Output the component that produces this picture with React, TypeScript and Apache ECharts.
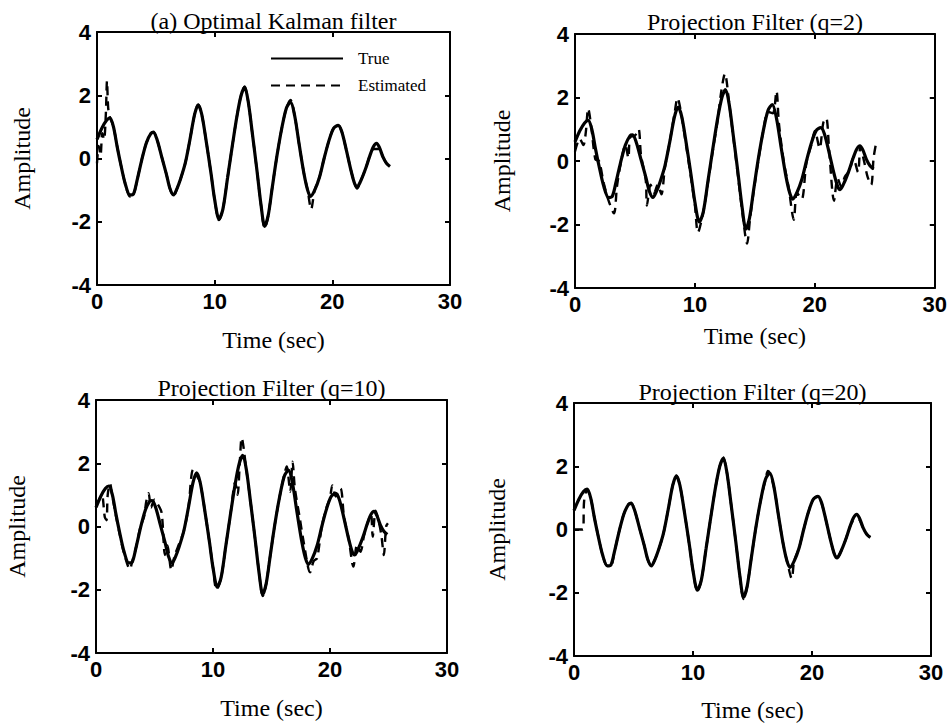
import React, { useEffect, useRef } from "react";
import * as echarts from "echarts";

// True signal [time (s), amplitude]
const trueSignal: number[][] = [
  [0.0, 0.6], [0.4, 0.95], [0.8, 1.2], [1.1, 1.28], [1.4, 1.0], [1.7, 0.4], [2.0, -0.15],
  [2.4, -0.8], [2.8, -1.15], [3.1, -1.12], [3.4, -0.7], [3.8, -0.05], [4.2, 0.5], [4.6, 0.8],
  [4.8, 0.82], [5.1, 0.6], [5.5, 0.05], [5.9, -0.5], [6.2, -0.95], [6.5, -1.15], [6.8, -0.95],
  [7.1, -0.65], [7.5, -0.15], [7.9, 0.6], [8.3, 1.4], [8.6, 1.7], [8.9, 1.4], [9.3, 0.5],
  [9.7, -0.5], [10.0, -1.3], [10.37, -1.92], [10.7, -1.6], [11.1, -0.6], [11.5, 0.4],
  [11.9, 1.35], [12.25, 2.0], [12.55, 2.25], [12.85, 1.8], [13.2, 0.8], [13.6, -0.4],
  [13.95, -1.5], [14.25, -2.15], [14.55, -1.8], [14.9, -0.9], [15.3, 0.1], [15.7, 0.95],
  [16.1, 1.6], [16.45, 1.78], [16.8, 1.35], [17.2, 0.4], [17.6, -0.5], [17.9, -1.0],
  [18.15, -1.2], [18.5, -1.0], [18.9, -0.6], [19.3, 0.0], [19.7, 0.55], [20.1, 0.95],
  [20.5, 1.05], [20.8, 0.85], [21.2, 0.25], [21.6, -0.4], [21.9, -0.8], [22.1, -0.9],
  [22.4, -0.72], [22.8, -0.35], [23.2, 0.1], [23.5, 0.38], [23.76, 0.48], [24.0, 0.35],
  [24.3, 0.05], [24.6, -0.15], [24.9, -0.25],
];

// (a) Optimal Kalman filter estimate
const kalmanEst: number[][] = [
  [0.0, -0.15], [0.15, 0.4], [0.3, 0.1], [0.45, 0.8], [0.6, 0.6], [0.75, 1.4], [0.85, 2.45],
  [0.95, 1.6], [1.1, 1.3], [1.4, 1.0], [1.7, 0.4], [2.0, -0.15], [2.4, -0.8], [2.8, -1.2],
  [3.1, -1.15], [3.4, -0.7], [3.8, -0.05], [4.2, 0.5], [4.6, 0.8], [4.8, 0.85], [5.1, 0.6],
  [5.5, 0.05], [5.9, -0.5], [6.2, -0.95], [6.5, -1.2], [6.8, -0.95], [7.1, -0.65],
  [7.5, -0.15], [7.9, 0.6], [8.3, 1.4], [8.6, 1.7], [8.9, 1.4], [9.3, 0.5], [9.7, -0.5],
  [10.0, -1.3], [10.37, -1.95], [10.7, -1.6], [11.1, -0.6], [11.5, 0.4], [11.9, 1.35],
  [12.25, 2.0], [12.55, 2.28], [12.85, 1.8], [13.2, 0.8], [13.6, -0.4], [13.95, -1.5],
  [14.25, -2.2], [14.55, -1.8], [14.9, -0.9], [15.3, 0.1], [15.7, 0.95], [16.1, 1.6],
  [16.45, 1.85], [16.8, 1.35], [17.2, 0.4], [17.6, -0.5], [17.9, -1.0], [18.2, -1.6],
  [18.5, -1.0], [18.9, -0.6], [19.3, 0.0], [19.7, 0.55], [20.1, 0.95], [20.5, 1.05],
  [20.8, 0.85], [21.2, 0.25], [21.6, -0.4], [21.9, -0.8], [22.1, -0.95], [22.4, -0.72],
  [22.8, -0.35], [23.2, 0.1], [23.5, 0.3], [23.76, 0.3], [24.0, 0.3], [24.3, 0.05],
  [24.6, -0.15], [24.9, -0.25],
];

// Projection filter (q=2) estimate
const q2Est: number[][] = [
  [0.0, 0.3], [0.4, 0.7], [0.7, 0.5], [0.9, 0.9], [1.1, 1.65], [1.35, 1.1], [1.7, 0.05],
  [2.0, 0.0], [2.4, -0.7], [2.8, -1.25], [3.25, -1.65], [3.5, -0.8], [3.8, -0.1], [4.2, 0.5],
  [4.45, 0.1], [4.6, 0.75], [5.0, 0.8], [5.3, 1.0], [5.5, 0.2], [5.9, -0.6], [6.0, -1.4],
  [6.3, -0.75], [6.6, -1.0], [6.9, -0.75], [7.2, -1.05], [7.5, -0.2], [7.9, 0.6], [8.3, 1.5],
  [8.55, 1.98], [8.9, 1.4], [9.3, 0.4], [9.7, -0.6], [10.0, -1.4], [10.25, -2.25],
  [10.7, -1.6], [11.1, -0.65], [11.5, 0.35], [11.9, 1.3], [12.2, 2.2], [12.5, 2.75],
  [12.85, 1.85], [13.2, 0.75], [13.6, -0.5], [13.95, -1.6], [14.35, -2.6], [14.6, -1.8],
  [14.9, -0.95], [15.3, 0.05], [15.7, 0.95], [16.1, 1.55], [16.5, 1.5], [16.8, 2.2],
  [17.0, 1.2], [17.4, 0.0], [17.8, -0.8], [18.25, -1.85], [18.5, -1.0], [18.9, -1.2],
  [19.3, -0.05], [19.7, 0.5], [20.0, 0.95], [20.4, 0.4], [20.7, 1.2], [20.95, 1.35],
  [21.2, 0.3], [21.6, -1.25], [21.9, -0.55], [22.2, -0.8], [22.5, -0.5], [22.9, -0.3],
  [23.2, 0.1], [23.6, -0.35], [23.8, 0.45], [24.1, 0.0], [24.4, -0.5], [24.7, -0.75],
  [24.9, 0.1], [25.1, 0.55],
];

// Projection filter (q=10) estimate
const q10Est: number[][] = [
  [0.0, 0.7], [0.2, 0.8], [0.5, 1.0], [0.75, 0.3], [0.9, 0.2], [1.0, 1.0], [1.2, 1.35],
  [1.4, 0.95], [1.7, 0.35], [2.0, -0.2], [2.4, -0.85], [2.9, -1.35], [3.1, -1.1],
  [3.4, -0.7], [3.8, 0.0], [4.1, 0.3], [4.3, 0.8], [4.5, 1.05], [4.7, 0.6], [5.0, 0.85],
  [5.2, 0.75], [5.6, 0.45], [5.9, -0.9], [6.1, -0.6], [6.44, -1.38], [6.7, -0.95],
  [7.1, -0.55], [7.5, -0.15], [7.9, 0.6], [8.3, 1.8], [8.7, 1.55], [8.9, 1.4], [9.3, 0.5],
  [9.7, -0.5], [10.0, -1.3], [10.3, -2.0], [10.7, -1.6], [11.1, -0.6], [11.5, 0.4],
  [11.9, 1.4], [12.1, 1.0], [12.3, 2.1], [12.45, 2.8], [12.85, 1.8], [13.2, 0.8],
  [13.6, -0.4], [13.95, -1.5], [14.25, -2.2], [14.55, -1.8], [14.9, -0.9], [15.3, 0.1],
  [15.7, 0.95], [16.1, 1.65], [16.3, 1.9], [16.6, 1.1], [16.8, 2.05], [17.0, 1.2],
  [17.4, 0.3], [17.8, -0.6], [18.3, -1.45], [18.6, -1.1], [18.9, -1.0], [19.3, 0.0],
  [19.7, 0.6], [20.0, 0.9], [20.2, 1.3], [20.5, 0.95], [20.9, 1.2], [21.2, 0.3],
  [21.6, -0.4], [22.0, -1.27], [22.3, -0.6], [22.6, -0.8], [22.9, -0.3], [23.2, 0.1],
  [23.5, 0.4], [23.65, -0.32], [23.9, 0.5], [24.2, 0.1], [24.4, -0.3], [24.6, -0.9],
  [24.8, 0.0], [24.95, 0.1],
];

// Projection filter (q=20) estimate
const q20Est: number[][] = [
  [0.0, 0.0], [0.75, 0.0], [0.85, 0.9], [1.1, 1.25], [1.4, 1.0], [1.7, 0.4], [2.0, -0.15],
  [2.4, -0.8], [2.8, -1.15], [3.1, -1.15], [3.4, -0.7], [3.8, -0.05], [4.2, 0.5], [4.6, 0.8],
  [4.8, 0.85], [5.1, 0.6], [5.5, 0.05], [5.9, -0.5], [6.2, -0.95], [6.5, -1.15], [6.8, -0.95],
  [7.1, -0.65], [7.5, -0.15], [7.9, 0.6], [8.3, 1.4], [8.6, 1.7], [8.9, 1.4], [9.3, 0.5],
  [9.7, -0.5], [10.0, -1.3], [10.37, -1.95], [10.7, -1.6], [11.1, -0.6], [11.5, 0.4],
  [11.9, 1.35], [12.25, 2.0], [12.55, 2.28], [12.85, 1.8], [13.2, 0.8], [13.6, -0.4],
  [13.95, -1.5], [14.25, -2.2], [14.55, -1.8], [14.9, -0.9], [15.3, 0.1], [15.7, 0.95],
  [16.1, 1.6], [16.3, 1.85], [16.45, 1.78], [16.8, 1.35], [17.2, 0.4], [17.6, -0.5],
  [17.9, -1.0], [18.3, -1.55], [18.5, -1.0], [18.9, -0.6], [19.3, 0.0], [19.7, 0.55],
  [20.1, 0.95], [20.5, 1.05], [20.8, 0.85], [21.2, 0.25], [21.6, -0.4], [21.9, -0.8],
  [22.1, -0.9], [22.4, -0.72], [22.8, -0.35], [23.2, 0.1], [23.5, 0.3], [23.76, 0.32],
  [24.0, 0.3], [24.3, 0.05], [24.6, -0.15], [24.9, -0.25],
];

const panelTitles = [
  "(a) Optimal Kalman filter",
  "Projection Filter (q=2)",
  "Projection Filter (q=10)",
  "Projection Filter (q=20)",
];
const estimates = [kalmanEst, q2Est, q10Est, q20Est];

const xMin = 0, xMax = 30, xStep = 10;
const yMin = -4, yMax = 4, yStep = 2;
const xName = "Time (sec)";
const yName = "Amplitude";

// layout (pixels)
const grids = [
  { left: 97, top: 32, width: 353, height: 253 },
  { left: 575, top: 34, width: 360, height: 254 },
  { left: 96, top: 400, width: 351, height: 253 },
  { left: 574, top: 403, width: 357, height: 253 },
];
const titleTops = [9, 10, 376, 380];
const xNameGaps = [43, 36, 43, 42];
const yNameGaps = [63, 61, 67, 65];

const SERIF = "'Liberation Serif', 'DejaVu Serif', serif";
const SANS = "'Liberation Sans', Arial, sans-serif";

export default function App() {
  const ref = useRef<HTMLDivElement>(null);
  useEffect(() => {
    if (!ref.current) return;
    const chart = echarts.init(ref.current, undefined, { renderer: "svg" });
    const axisLine = { show: true, onZero: false, lineStyle: { color: "#000", width: 2 } };
    const tick = { show: true, inside: true, length: 5, lineStyle: { color: "#000", width: 2 } };
    const label = { color: "#000", fontFamily: SANS, fontWeight: "bold" as const, fontSize: 22 };

    const xAxes: any[] = [];
    const yAxes: any[] = [];
    const series: any[] = [];
    grids.forEach((g, i) => {
      xAxes.push({
        gridIndex: i, type: "value", min: xMin, max: xMax, interval: xStep, position: "bottom",
        axisLine, axisTick: tick, splitLine: { show: false },
        axisLabel: { ...label, margin: 5 },
        name: xName, nameLocation: "middle", nameGap: xNameGaps[i],
        nameTextStyle: { color: "#000", fontFamily: SERIF, fontSize: 24 },
      });
      xAxes.push({
        gridIndex: i, type: "value", min: xMin, max: xMax, interval: xStep, position: "top",
        axisLine, axisTick: tick, splitLine: { show: false }, axisLabel: { show: false },
      });
      yAxes.push({
        gridIndex: i, type: "value", min: yMin, max: yMax, interval: yStep, position: "left",
        axisLine, axisTick: tick, splitLine: { show: false },
        axisLabel: { ...label, margin: 6 },
        name: yName, nameLocation: "middle", nameGap: yNameGaps[i], nameRotate: 90,
        nameTextStyle: { color: "#000", fontFamily: SERIF, fontSize: 24 },
      });
      yAxes.push({
        gridIndex: i, type: "value", min: yMin, max: yMax, interval: yStep, position: "right",
        axisLine, axisTick: tick, splitLine: { show: false }, axisLabel: { show: false },
      });
      series.push({
        name: "True", type: "line", xAxisIndex: 2 * i, yAxisIndex: 2 * i,
        data: trueSignal, showSymbol: false, symbol: "none", smooth: 0.3,
        lineStyle: { color: "#000", width: 3.2 }, itemStyle: { color: "#000" },
      });
      series.push({
        name: "Estimated", type: "line", xAxisIndex: 2 * i, yAxisIndex: 2 * i,
        data: estimates[i], showSymbol: false, symbol: "none", smooth: 0.3,
        lineStyle: { color: "#000", width: 2.4, type: [9, 6] }, itemStyle: { color: "#000" },
      });
    });

    chart.setOption({
      animation: false,
      backgroundColor: "#fff",
      title: grids.map((g, i) => ({
        text: panelTitles[i],
        left: g.left + g.width / 2,
        top: titleTops[i],
        textAlign: "center",
        padding: 0,
        textStyle: { color: "#000", fontFamily: SERIF, fontSize: 24, fontWeight: "normal" },
      })),
      legend: {
        data: ["True", "Estimated"],
        orient: "vertical",
        left: 270,
        top: 50,
        itemWidth: 72,
        itemHeight: 14,
        itemGap: 10,
        padding: 0,
        itemStyle: { opacity: 0, color: "rgba(0,0,0,0)", borderWidth: 0 },
        textStyle: { color: "#000", fontFamily: SERIF, fontSize: 17, padding: [0, 0, 0, 10] },
        selectedMode: false,
      },
      grid: grids.map((g) => ({ ...g, containLabel: false })),
      xAxis: xAxes,
      yAxis: yAxes,
      series,
    });
    return () => chart.dispose();
  }, []);
  return (
    <div
      ref={ref}
      style={{ position: "fixed", left: 0, top: 0, width: 950, height: 727, background: "#fff" }}
    />
  );
}
